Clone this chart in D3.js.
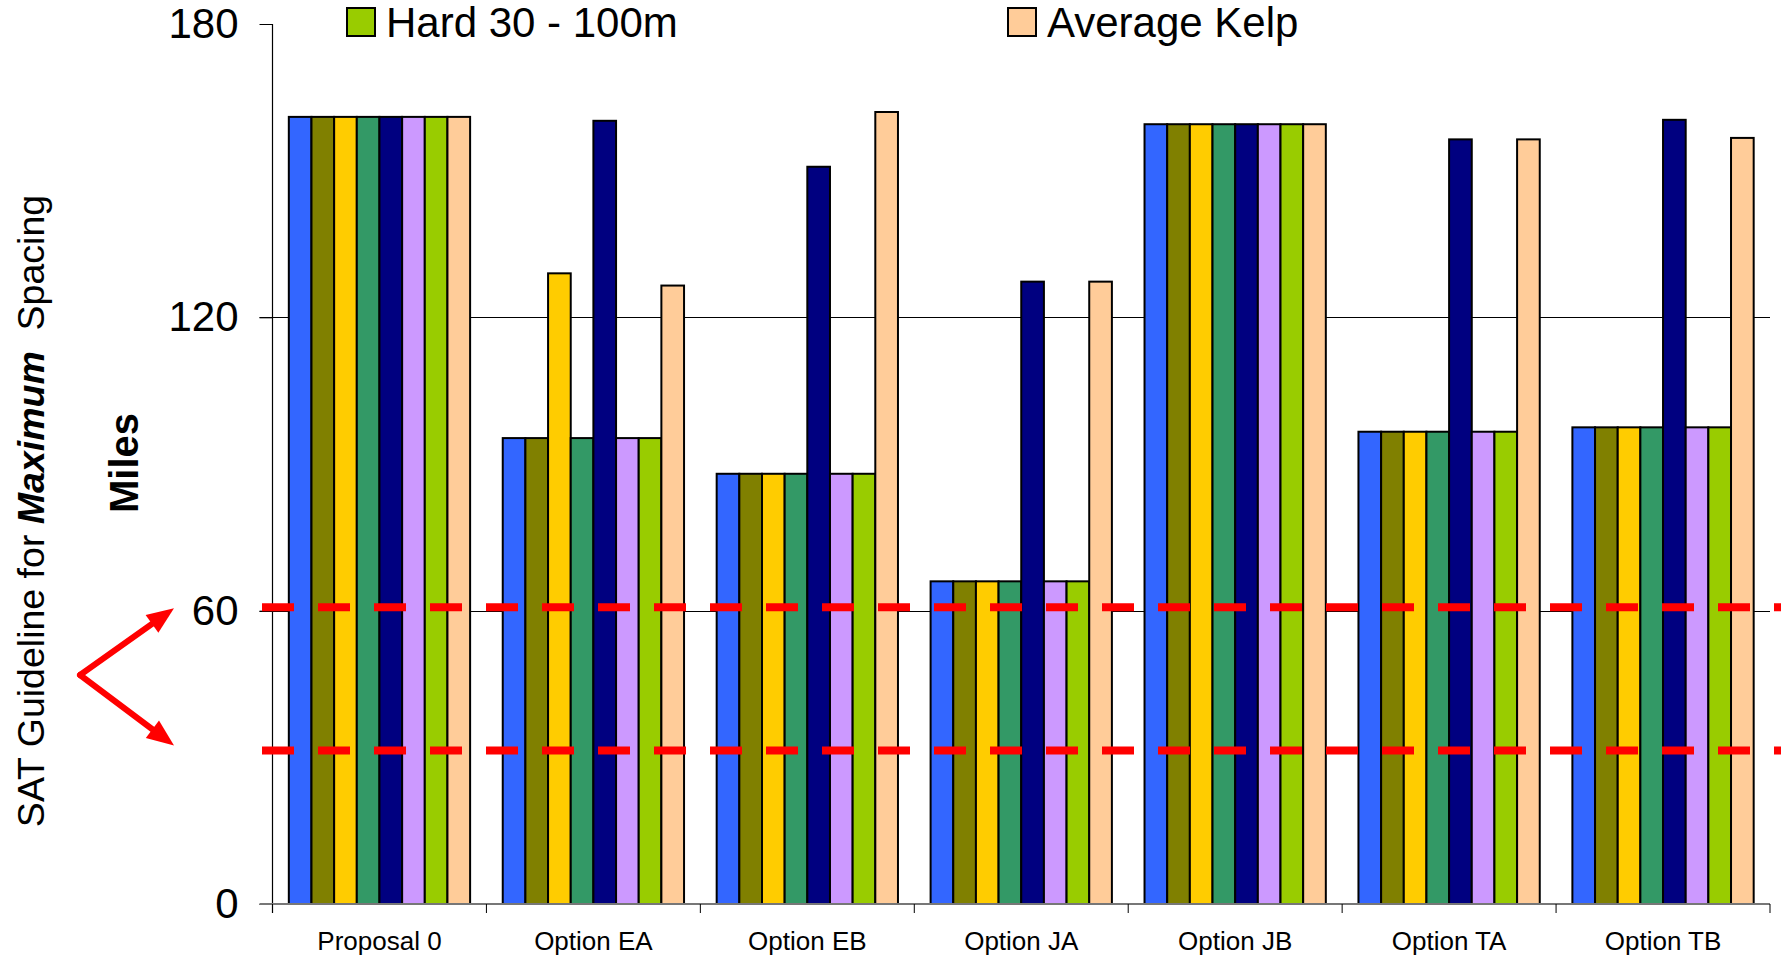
<!DOCTYPE html>
<html>
<head>
<meta charset="utf-8">
<script src="https://cdn.jsdelivr.net/npm/d3@7"></script>
<style>
  html, body { margin: 0; padding: 0; background: #fff; }
  svg { display: block; font-family: "Liberation Sans", Arial, sans-serif; }
</style>
</head>
<body>
<svg id="chart" width="1781" height="958"></svg>
<script>
// ---- data ----
const categories = ["Proposal 0", "Option EA", "Option EB", "Option JA", "Option JB", "Option TA", "Option TB"];
const seriesNames = ["Series 1", "Series 2", "Series 3", "Series 4", "Series 5", "Series 6", "Hard 30 - 100m", "Average Kelp"];
const seriesColors = ["#3366FF", "#808000", "#FFCC00", "#339966", "#000080", "#CC99FF", "#99CC00", "#FFCC99"];
const s1 = [161, 95.3, 88, 66, 159.5, 96.6, 97.5];
const s2 = [161, 95.3, 88, 66, 159.5, 96.6, 97.5];
const s3 = [161, 129, 88, 66, 159.5, 96.6, 97.5];
const s4 = [161, 95.3, 88, 66, 159.5, 96.6, 97.5];
const s5 = [161, 160.2, 150.8, 127.3, 159.5, 156.4, 160.4];
const s6 = [161, 95.3, 88, 66, 159.5, 96.6, 97.5];
const s7 = [161, 95.3, 88, 66, 159.5, 96.6, 97.5];
const s8 = [161, 126.5, 162, 127.3, 159.5, 156.4, 156.7];
const seriesValues = [s1, s2, s3, s4, s5, s6, s7, s8];
const yTicks = [0, 60, 120, 180];
const gridValues = [60, 120];
const guidelines = [60.7, 31.4];
const legendShown = [6, 7];

(function () {
// ---- layout ----
const svg = d3.select("#chart");
const pLeft = 272.5, pRight = 1770, pTop = 24, pBottom = 904;

const y = d3.scaleLinear().domain([0, 180]).range([pBottom, pTop]);
const x0 = d3.scaleBand().domain(categories).range([pLeft, pRight]).padding(0);
const x1 = d3.scaleBand().domain(d3.range(seriesNames.length)).range([0, x0.bandwidth()])
  .paddingInner(0).paddingOuter(0.72);

// gridlines
svg.append("g").selectAll("line").data(gridValues).join("line")
  .attr("x1", pLeft - 13).attr("x2", pRight)
  .attr("y1", d => Math.round(y(d)) + 0.5).attr("y2", d => Math.round(y(d)) + 0.5)
  .attr("stroke", "#000").attr("stroke-width", 1);

// y axis
const yAxis = svg.append("g").attr("transform", `translate(${pLeft},0)`)
  .call(d3.axisLeft(y).tickValues(yTicks).tickSize(13).tickPadding(21).tickFormat(d3.format("d")));
yAxis.select(".domain").remove();
yAxis.selectAll(".tick line").attr("stroke", "#000");
yAxis.selectAll("text").attr("font-size", 42).attr("fill", "#000")
  .attr("font-family", "Liberation Sans, Arial, sans-serif");
svg.append("line").attr("x1", pLeft).attr("x2", pLeft).attr("y1", pTop).attr("y2", pBottom + 9)
  .attr("stroke", "#000").attr("stroke-width", 1.2);

// bars
const groups = svg.append("g").selectAll("g").data(categories).join("g")
  .attr("transform", c => `translate(${x0(c)},0)`);
groups.selectAll("rect")
  .data((c, ci) => seriesValues.map((vals, si) => ({ si, v: vals[ci] })))
  .join("rect")
  .attr("x", d => x1(d.si))
  .attr("width", x1.bandwidth())
  .attr("y", d => y(d.v))
  .attr("height", d => y(0) - y(d.v))
  .attr("fill", d => seriesColors[d.si])
  .attr("stroke", "#000").attr("stroke-width", 2);

// x axis
svg.append("line").attr("x1", pLeft - 13).attr("x2", pRight).attr("y1", pBottom).attr("y2", pBottom)
  .attr("stroke", "#777").attr("stroke-width", 2);
const boundaries = categories.map(c => x0(c)).concat([pRight]);
svg.append("g").selectAll("line").data(boundaries).join("line")
  .attr("x1", d => d).attr("x2", d => d).attr("y1", pBottom).attr("y2", pBottom + 9)
  .attr("stroke", "#000").attr("stroke-width", 1);
svg.append("g").selectAll("text").data(categories).join("text")
  .attr("x", c => x0(c) + x0.bandwidth() / 2).attr("y", 950)
  .attr("text-anchor", "middle").attr("font-size", 26).attr("fill", "#000")
  .text(c => c);

// guideline dashes
svg.append("g").selectAll("line").data(guidelines).join("line")
  .attr("x1", 262).attr("x2", 1781)
  .attr("y1", d => y(d)).attr("y2", d => y(d))
  .attr("stroke", "#FF0000").attr("stroke-width", 8).attr("stroke-dasharray", "32 24");

// legend (visible row)
const leg = svg.append("g").selectAll("g").data(legendShown).join("g")
  .attr("transform", (d, i) => `translate(${[347, 1008][i]},8)`);
leg.append("rect").attr("width", 28).attr("height", 28)
  .attr("fill", d => seriesColors[d]).attr("stroke", "#000").attr("stroke-width", 2);
leg.append("text").attr("x", 39).attr("y", 29).attr("font-size", 42).attr("fill", "#000")
  .text(d => seriesNames[d]);

// axis titles
const t1 = svg.append("text").attr("transform", "translate(44,511) rotate(-90)")
  .attr("text-anchor", "middle").attr("font-size", 37.5).attr("fill", "#000");
t1.append("tspan").text("SAT Guideline for ");
t1.append("tspan").attr("font-weight", "bold").attr("font-style", "italic").text("Maximum");
t1.append("tspan").text("\u00A0 Spacing");

svg.append("text").attr("transform", "translate(138,463) rotate(-90)")
  .attr("text-anchor", "middle").attr("font-size", 40).attr("font-weight", "bold").attr("fill", "#000")
  .text("Miles");

// red arrows
const vx = 80, vy = 675, tipX = 174;
const arrowTips = [[tipX, y(guidelines[0]) + 1], [tipX, y(guidelines[1]) - 5]];
const aG = svg.append("g");
arrowTips.forEach(([tx, ty]) => {
  const dx = tx - vx, dy = ty - vy, L = Math.hypot(dx, dy);
  const ux = dx / L, uy = dy / L, px = -uy, py = ux;
  const hl = 27, hw = 11;
  const bx = tx - ux * hl, by = ty - uy * hl;
  aG.append("line").attr("x1", vx).attr("y1", vy).attr("x2", bx + ux * 2).attr("y2", by + uy * 2)
    .attr("stroke", "#FF0000").attr("stroke-width", 6).attr("stroke-linecap", "round");
  aG.append("path")
    .attr("d", `M${tx},${ty} L${bx + px * hw},${by + py * hw} L${bx - px * hw},${by - py * hw} Z`)
    .attr("fill", "#FF0000");
});
})();
</script>
</body>
</html>
